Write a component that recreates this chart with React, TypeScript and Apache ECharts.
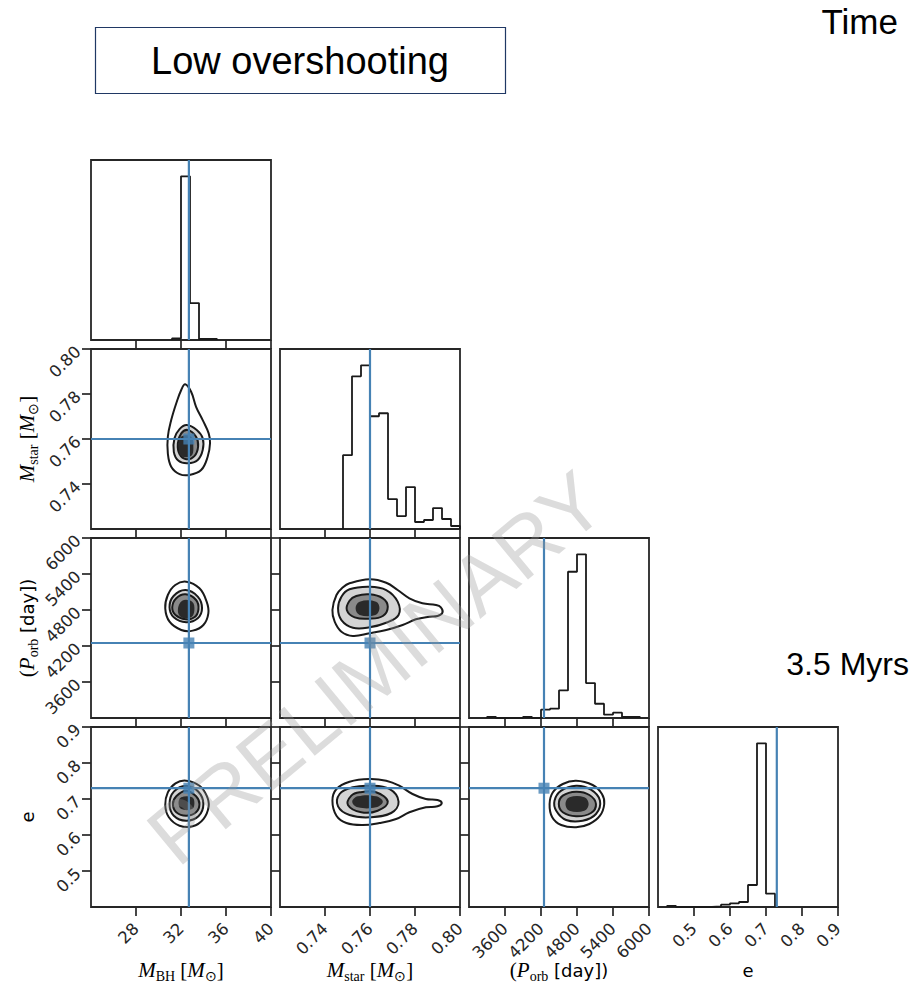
import React, { useEffect, useRef } from "react";
import * as echarts from "echarts";

// ---------------- data ----------------
const mbhRange = [24, 40];
const mstarRange = [0.72, 0.8];
const porbRange = [3000, 6000];
const eRange = [0.4, 0.9];

const mbhTicks = [28, 32, 36, 40];
const mstarTicks = [0.74, 0.76, 0.78, 0.8];
const porbTicks = [3600, 4200, 4800, 5400, 6000];
const eTicks = [0.5, 0.6, 0.7, 0.8, 0.9];

// true (injected) values: M_BH, M_star, P_orb, e
const truthValues = [32.7, 0.76, 4250, 0.73];

// 1D marginal histograms (bin edges, counts)
const mbhEdges = [31.2, 32.0, 32.8, 33.6, 34.4, 35.2];
const mbhCounts = [1.5, 164, 37, 1, 1];

const mstarEdges = [0.748, 0.752, 0.756, 0.76, 0.764, 0.768, 0.772, 0.776, 0.78, 0.784, 0.788, 0.792, 0.796, 0.8];
const mstarCounts = [74, 153, 164, 113, 116, 30, 13, 42, 7, 9, 21, 10, 3];

const porbEdges = [3300, 3450, 3600, 3750, 3900, 4050, 4200, 4350, 4500, 4650, 4800, 4950, 5100, 5250, 5400, 5550, 5700, 5850];
const porbCounts = [1, 0, 0, 0, 1, 0, 8.3, 9.3, 27.6, 146.6, 164, 35, 14.3, 3.3, 5.3, 1, 1];

const eEdges = [0.425, 0.45, 0.475, 0.5, 0.525, 0.55, 0.575, 0.6, 0.625, 0.65, 0.675, 0.7, 0.725];
const eCounts = [1, 0, 0, 0, 0, 0.7, 2.3, 3.7, 5, 22, 163.7, 13.3];

// 2D contours (outer, middle, inner, core), data coordinates
const mbhMstarOuter = [[32.37, 0.7843], [32.9, 0.781], [33.34, 0.7743], [33.93, 0.7684], [34.46, 0.7625], [34.58, 0.7581], [34.37, 0.7521], [33.79, 0.7462], [32.75, 0.744], [31.87, 0.7444], [31.13, 0.7477], [30.83, 0.7536], [30.83, 0.761], [31.13, 0.7684], [31.58, 0.7759], [32.02, 0.7818]];
const mbhMstarMid = [[32.51, 0.7662], [33.4, 0.764], [33.93, 0.7603], [33.93, 0.7551], [33.49, 0.7507], [32.6, 0.7492], [31.78, 0.7503], [31.36, 0.7543], [31.42, 0.7603], [31.87, 0.7644]];
const mbhMstarInner = [[32.6, 0.764], [33.34, 0.761], [33.52, 0.7566], [33.19, 0.7524], [32.46, 0.751], [31.87, 0.7533], [31.72, 0.7581], [32.02, 0.7625]];
const mbhMstarCore = [[32.0, 0.761], [32.9, 0.761], [33.1, 0.756], [32.9, 0.7525], [32.0, 0.7525], [31.8, 0.756]];

const mbhPorbOuter = [[32.46, 5272], [33.64, 5162], [34.28, 4939], [34.43, 4745], [33.99, 4550], [33.04, 4456], [32.02, 4467], [30.98, 4605], [30.6, 4828], [30.83, 5050], [31.49, 5217]];
const mbhPorbMid = [[32.4, 5133], [33.49, 5022], [33.87, 4828], [33.49, 4662], [32.46, 4595], [31.36, 4678], [30.98, 4845], [31.34, 5033]];
const mbhPorbInner = [[32.4, 5061], [33.34, 4967], [33.55, 4812], [33.19, 4678], [32.4, 4645], [31.51, 4717], [31.22, 4845], [31.58, 4995]];
const mbhPorbCore = [[32.1, 4955], [32.99, 4939], [33.19, 4800], [32.9, 4678], [32.02, 4678], [31.72, 4800]];

const mbhEOuter = [[32.46, 0.7508], [33.64, 0.7369], [34.28, 0.7092], [34.46, 0.6797], [33.99, 0.6444], [33.04, 0.6242], [31.87, 0.6258], [30.92, 0.6492], [30.6, 0.6833], [30.83, 0.7186], [31.51, 0.7436]];
const mbhEMid = [[32.46, 0.7369], [33.55, 0.7203], [33.99, 0.6861], [33.55, 0.6519], [32.46, 0.6397], [31.36, 0.6536], [30.98, 0.6861], [31.36, 0.7203]];
const mbhEInner = [[32.46, 0.7231], [33.34, 0.7075], [33.64, 0.6861], [33.34, 0.6631], [32.46, 0.6536], [31.58, 0.6631], [31.28, 0.6861], [31.58, 0.7075]];
const mbhECore = [[32.02, 0.7047], [32.99, 0.7047], [33.19, 0.6889], [32.99, 0.6722], [32.02, 0.6722], [31.78, 0.6889]];

const mstarPorbOuter = [[0.7509, 5245], [0.7598, 5312], [0.7672, 5255], [0.7723, 5133], [0.7775, 4995], [0.7833, 4912], [0.7893, 4883], [0.7915, 4845], [0.7922, 4755], [0.79, 4700], [0.7863, 4688], [0.7804, 4645], [0.7745, 4550], [0.7672, 4467], [0.7598, 4412], [0.7524, 4367], [0.7473, 4438], [0.7443, 4605], [0.7433, 4800], [0.7451, 5050], [0.748, 5178]];
const mstarPorbMid = [[0.7509, 5145], [0.7598, 5188], [0.7672, 5133], [0.7723, 4939], [0.7727, 4717], [0.7672, 4588], [0.7598, 4512], [0.7524, 4505], [0.7473, 4633], [0.7458, 4828], [0.7473, 5022]];
const mstarPorbInner = [[0.7539, 5033], [0.7598, 5061], [0.7657, 4995], [0.7679, 4855], [0.7657, 4700], [0.7598, 4655], [0.7532, 4678], [0.7497, 4800], [0.7509, 4955]];
const mstarPorbCore = [[0.7554, 4939], [0.7627, 4939], [0.7642, 4828], [0.7624, 4717], [0.7554, 4717], [0.7536, 4828]];

const mstarEOuter = [[0.7509, 0.7481], [0.7598, 0.7556], [0.7672, 0.7508], [0.773, 0.7369], [0.7789, 0.7139], [0.7848, 0.7], [0.79, 0.6972], [0.7919, 0.6889], [0.79, 0.6797], [0.7848, 0.6769], [0.7775, 0.6631], [0.7716, 0.6444], [0.7642, 0.6333], [0.7568, 0.6278], [0.7495, 0.6333], [0.7451, 0.6536], [0.7433, 0.6953], [0.7451, 0.7278]];
const mstarEMid = [[0.7524, 0.7325], [0.7598, 0.7369], [0.7686, 0.7278], [0.7727, 0.6925], [0.7694, 0.6611], [0.7598, 0.6492], [0.7509, 0.6556], [0.7458, 0.6797], [0.7465, 0.7139]];
const mstarEInner = [[0.7554, 0.7186], [0.7627, 0.7186], [0.7679, 0.6925], [0.7634, 0.6675], [0.7561, 0.6631], [0.7502, 0.6833], [0.7517, 0.7092]];
const mstarECore = [[0.7546, 0.7075], [0.7627, 0.7075], [0.7657, 0.6925], [0.7627, 0.6769], [0.7546, 0.6769], [0.7521, 0.6925]];

const porbEOuter = [[4785, 0.7508], [5061, 0.7389], [5216, 0.7139], [5254, 0.6861], [5183, 0.6536], [5006, 0.6306], [4785, 0.6214], [4536, 0.6278], [4387, 0.6492], [4343, 0.6861], [4398, 0.7186], [4563, 0.7417]];
const porbEMid = [[4785, 0.7369], [5033, 0.7258], [5183, 0.6953], [5116, 0.6583], [4895, 0.6397], [4619, 0.6417], [4454, 0.6675], [4425, 0.6953], [4536, 0.7231]];
const porbEInner = [[4785, 0.7203], [5006, 0.7111], [5116, 0.6861], [5033, 0.6611], [4785, 0.6519], [4563, 0.6631], [4497, 0.6861], [4563, 0.7092]];
const porbECore = [[4674, 0.7047], [4923, 0.7047], [4994, 0.6861], [4923, 0.6675], [4674, 0.6675], [4608, 0.6861]];

// ---------------- chart building ----------------
const ranges = [mbhRange, mstarRange, porbRange, eRange];
const tickLists = [mbhTicks, mstarTicks, porbTicks, eTicks];
const fmts = [
  (v: number) => String(Math.round(v)),
  (v: number) => v.toFixed(2),
  (v: number) => String(Math.round(v)),
  (v: number) => v.toFixed(1),
];
const hists: [number[], number[]][] = [
  [mbhEdges, mbhCounts],
  [mstarEdges, mstarCounts],
  [porbEdges, porbCounts],
  [eEdges, eCounts],
];
const contours: Record<string, number[][][]> = {
  "1-0": [mbhMstarOuter, mbhMstarMid, mbhMstarInner, mbhMstarCore],
  "2-0": [mbhPorbOuter, mbhPorbMid, mbhPorbInner, mbhPorbCore],
  "3-0": [mbhEOuter, mbhEMid, mbhEInner, mbhECore],
  "2-1": [mstarPorbOuter, mstarPorbMid, mstarPorbInner, mstarPorbCore],
  "3-1": [mstarEOuter, mstarEMid, mstarEInner, mstarECore],
  "3-2": [porbEOuter, porbEMid, porbEInner, porbECore],
};
const ringFill = ["rgba(255,255,255,0)", "#d4d4d4", "#8a8a8a", "#2a2a2a"];
const ringStroke = ["#1a1a1a", "#1a1a1a", "#1a1a1a", "none"];

const BLUE = "#4682b4";
const INK = "#262626";
const PANEL0_X = 91;
const PANEL0_Y = 160;
const STEP = 189;
const SIZE = 180;

function buildOption() {
  const grid: any[] = [];
  const xAxis: any[] = [];
  const yAxis: any[] = [];
  const series: any[] = [];
  let k = 0;
  for (let j = 0; j < 4; j++) {
    for (let i = 0; i <= j; i++) {
      grid.push({
        left: PANEL0_X + STEP * i,
        top: PANEL0_Y + STEP * j,
        width: SIZE,
        height: SIZE,
        show: true,
        borderColor: INK,
        borderWidth: 1.8,
        backgroundColor: "#fff",
      });
      const tickStyle = { show: true, length: 9, inside: false, lineStyle: { color: INK, width: 1.7 } };
      xAxis.push({
        type: "value",
        gridIndex: k,
        min: ranges[i][0],
        max: ranges[i][1],
        axisLine: { show: false },
        splitLine: { show: false },
        axisTick: { ...tickStyle, customValues: tickLists[i] },
        axisLabel: {
          show: j === 3,
          customValues: tickLists[i],
          rotate: 45,
          margin: 19,
          fontSize: 16.5,
          fontFamily: "DejaVu Sans",
          color: INK,
          formatter: fmts[i],
        },
      });
      if (i === j) {
        const counts = hists[i][1];
        const ymax = Math.max(...counts) * 1.1;
        yAxis.push({
          type: "value",
          gridIndex: k,
          min: 0,
          max: ymax,
          axisLine: { show: false },
          axisTick: { show: false },
          axisLabel: { show: false },
          splitLine: { show: false },
        });
        const edges = hists[i][0];
        const pts: number[][] = [[edges[0], 0]];
        counts.forEach((c, b) => {
          pts.push([edges[b], c]);
          pts.push([edges[b + 1], c]);
        });
        pts.push([edges[edges.length - 1], 0]);
        series.push({
          type: "line",
          xAxisIndex: k,
          yAxisIndex: k,
          data: pts,
          symbol: "none",
          silent: true,
          lineStyle: { color: "#1a1a1a", width: 1.8 },
          z: 2,
        });
        series.push({
          type: "line",
          xAxisIndex: k,
          yAxisIndex: k,
          data: [[truthValues[i], 0], [truthValues[i], ymax]],
          symbol: "none",
          silent: true,
          lineStyle: { color: BLUE, width: 2.2 },
          z: 3,
        });
      } else {
        yAxis.push({
          type: "value",
          gridIndex: k,
          min: ranges[j][0],
          max: ranges[j][1],
          axisLine: { show: false },
          splitLine: { show: false },
          axisTick: { ...tickStyle, customValues: tickLists[j] },
          axisLabel: {
            show: i === 0,
            customValues: tickLists[j],
            rotate: 45,
            margin: 13,
            fontSize: 16.5,
            fontFamily: "DejaVu Sans",
            color: INK,
            formatter: fmts[j],
          },
        });
        const rings = contours[`${j}-${i}`];
        series.push({
          type: "custom",
          xAxisIndex: k,
          yAxisIndex: k,
          coordinateSystem: "cartesian2d",
          silent: true,
          data: rings.map((r, idx) => [r[0][0], r[0][1], idx]),
          renderItem: (_params: any, api: any) => {
            const idx = api.value(2);
            const pts = rings[idx].map((p) => api.coord(p));
            return {
              type: "polygon",
              shape: { points: pts, smooth: 0.4 },
              style: { fill: ringFill[idx], stroke: ringStroke[idx], lineWidth: 2 },
            };
          },
          z: 2,
        });
        const tx = truthValues[i];
        const ty = truthValues[j];
        series.push({
          type: "line",
          xAxisIndex: k,
          yAxisIndex: k,
          data: [[tx, ranges[j][0]], [tx, ranges[j][1]]],
          symbol: "none",
          silent: true,
          lineStyle: { color: BLUE, width: 2.2 },
          z: 3,
        });
        series.push({
          type: "line",
          xAxisIndex: k,
          yAxisIndex: k,
          data: [[ranges[i][0], ty], [ranges[i][1], ty]],
          symbol: "none",
          silent: true,
          lineStyle: { color: BLUE, width: 2.2 },
          z: 3,
        });
        series.push({
          type: "scatter",
          xAxisIndex: k,
          yAxisIndex: k,
          data: [[tx, ty]],
          symbol: "rect",
          symbolSize: 11,
          silent: true,
          itemStyle: { color: BLUE },
          z: 4,
        });
      }
      k++;
    }
  }

  const serif = "Liberation Serif";
  const rich = {
    i: { fontFamily: serif, fontStyle: "italic", fontSize: 21, lineHeight: 26, color: "#333" },
    r: { fontFamily: serif, fontSize: 21, lineHeight: 26, color: "#333" },
    s: { fontFamily: serif, fontSize: 14, lineHeight: 12, verticalAlign: "bottom", color: "#333" },
    d: { fontFamily: "DejaVu Sans", fontSize: 18, lineHeight: 26, color: "#333" },
  };
  const xNames = [
    "{i|M}{s|BH}{r| [}{i|M}{s|⊙}{r|]}",
    "{i|M}{s|star}{r| [}{i|M}{s|⊙}{r|]}",
    "{r|(}{i|P}{s|orb}{d| [day])}",
    "{d|e}",
  ];
  const graphic: any[] = [];
  xNames.forEach((t, i) => {
    graphic.push({
      type: "text",
      x: PANEL0_X + STEP * i + SIZE / 2,
      y: 970,
      style: { text: t, rich, align: "center", verticalAlign: "middle" },
    });
  });
  [1, 2, 3].forEach((j) => {
    graphic.push({
      type: "text",
      x: 27,
      y: PANEL0_Y + STEP * j + SIZE / 2,
      rotation: Math.PI / 2,
      style: { text: xNames[j], rich, align: "center", verticalAlign: "middle" },
    });
  });
  graphic.push({
    type: "rect",
    shape: { x: 95.5, y: 27.5, width: 410, height: 66 },
    style: { fill: "none", stroke: "#203864", lineWidth: 1.2 },
  });
  graphic.push({
    type: "text",
    x: 300,
    y: 61,
    style: { text: "Low overshooting", fontFamily: "Liberation Sans", fontSize: 38, fill: "#000", align: "center", verticalAlign: "middle" },
  });
  graphic.push({
    type: "text",
    x: 898,
    y: 21,
    style: { text: "Time", fontFamily: "Liberation Sans", fontSize: 35, fill: "#000", align: "right", verticalAlign: "middle" },
  });
  graphic.push({
    type: "text",
    x: 909,
    y: 664,
    style: { text: "3.5 Myrs", fontFamily: "Liberation Sans", fontSize: 32, fill: "#000", align: "right", verticalAlign: "middle" },
  });
  graphic.push({
    type: "text",
    x: 376,
    y: 668,
    rotation: 0.69,
    z: 100,
    style: { text: "PRELIMINARY", fontFamily: "Liberation Sans", fontSize: 83, fill: "rgba(150,150,150,0.33)", align: "center", verticalAlign: "middle" },
  });

  return { animation: false, backgroundColor: "#fff", grid, xAxis, yAxis, series, graphic };
}

export default function App() {
  const ref = useRef<HTMLDivElement>(null);
  useEffect(() => {
    if (!ref.current) return;
    const chart = echarts.init(ref.current, undefined, { renderer: "svg" });
    chart.setOption(buildOption() as any);
    return () => chart.dispose();
  }, []);
  return <div ref={ref} style={{ position: "absolute", left: 0, top: 0, width: 917, height: 1008 }} />;
}
